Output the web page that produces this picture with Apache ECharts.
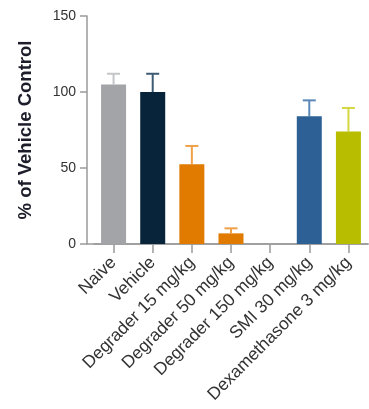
<!DOCTYPE html>
<html>
<head>
<meta charset="utf-8">
<script src="https://cdn.jsdelivr.net/npm/echarts@6/dist/echarts.min.js"></script>
<style>
  html, body { margin: 0; padding: 0; background: #ffffff; }
  #chart { width: 369px; height: 409px; }
</style>
</head>
<body>
<div id="chart"></div>
<script>
// Treatment groups, mean response (% of vehicle) and upper SEM
var categories = ['Naive', 'Vehicle', 'Degrader 15 mg/kg', 'Degrader 50 mg/kg',
                  'Degrader 150 mg/kg', 'SMI 30 mg/kg', 'Dexamethasone 3 mg/kg'];
var means  = [105, 100, 52.5, 7, 0, 84, 74];
var errors = [7, 12, 12, 3.3, null, 10.5, 15.5];
var barColors = ['#a2a4a7', '#07243a', '#e07b00', '#e07b00', '#e07b00', '#2d6195', '#b8bd00'];
var errColors = ['#c3c5c8', '#3d5b72', '#f0a048', '#f0a048', '#f0a048', '#5a88b8', '#d4d742'];
var yTicks = { min: 0, max: 150, interval: 50 };

var axisColor = '#9a9a9a';
var labelColor = '#333333';
var fontFamily = '"Liberation Sans", Arial, Helvetica, sans-serif';

var chart = echarts.init(document.getElementById('chart'), null, { renderer: 'canvas' });

var option = {
  animation: false,
  backgroundColor: '#ffffff',
  grid: [
    // frame grid: carries the value axis and the full-length baseline
    { left: 87, right: 1, top: 16, bottom: 165 },
    // plotting grid: category bands start a little right of the value axis
    { left: 94, right: 1, top: 16, bottom: 165 }
  ],
  xAxis: [
    {
      gridIndex: 0, type: 'value', min: 0, max: 1,
      axisLine: { show: true, lineStyle: { color: axisColor, width: 1.5 } },
      axisTick: { show: false }, axisLabel: { show: false }, splitLine: { show: false }
    },
    {
      gridIndex: 1, type: 'category', data: categories,
      axisLine: { show: true, lineStyle: { color: axisColor, width: 1.5 } },
      axisTick: { show: true, alignWithLabel: true, length: 9, lineStyle: { color: axisColor, width: 1.5 } },
      axisLabel: {
        rotate: 45, interval: 0, margin: 16,
        color: labelColor, fontSize: 17.5, fontFamily: fontFamily
      },
      splitLine: { show: false }
    }
  ],
  yAxis: [
    {
      gridIndex: 0, type: 'value', min: yTicks.min, max: yTicks.max, interval: yTicks.interval,
      name: '% of Vehicle Control', nameLocation: 'middle', nameGap: 52,
      nameTextStyle: { color: '#1c1c2a', fontSize: 18.5, fontWeight: 'bold', fontFamily: fontFamily },
      axisLine: { show: true, lineStyle: { color: axisColor, width: 1.5 } },
      axisTick: { show: true, length: 7, lineStyle: { color: axisColor, width: 1.5 } },
      axisLabel: { margin: 11, color: labelColor, fontSize: 14, fontFamily: fontFamily },
      splitLine: { show: false }
    },
    {
      gridIndex: 1, type: 'value', min: yTicks.min, max: yTicks.max, interval: yTicks.interval,
      show: false, splitLine: { show: false }
    }
  ],
  series: [
    {
      type: 'bar',
      xAxisIndex: 1, yAxisIndex: 1,
      barWidth: 25,
      data: means.map(function (v, i) {
        return { value: v, itemStyle: { color: barColors[i] } };
      }),
      z: 2
    },
    {
      // upper error bars with caps
      type: 'custom',
      xAxisIndex: 1, yAxisIndex: 1,
      data: means.map(function (v, i) { return [i, v, errors[i]]; }),
      renderItem: function (params, api) {
        var i = api.value(0);
        var err = errors[i];
        if (err == null) return null;
        var base = api.coord([i, api.value(1)]);
        var top = api.coord([i, api.value(1) + err]);
        var half = 6.5;
        var style = { stroke: errColors[i], lineWidth: 2, fill: null };
        return {
          type: 'group',
          children: [
            { type: 'line', shape: { x1: base[0], y1: base[1], x2: top[0], y2: top[1] }, style: style },
            { type: 'line', shape: { x1: top[0] - half, y1: top[1], x2: top[0] + half, y2: top[1] }, style: style }
          ]
        };
      },
      z: 1
    }
  ]
};

chart.setOption(option);
</script>
</body>
</html>
